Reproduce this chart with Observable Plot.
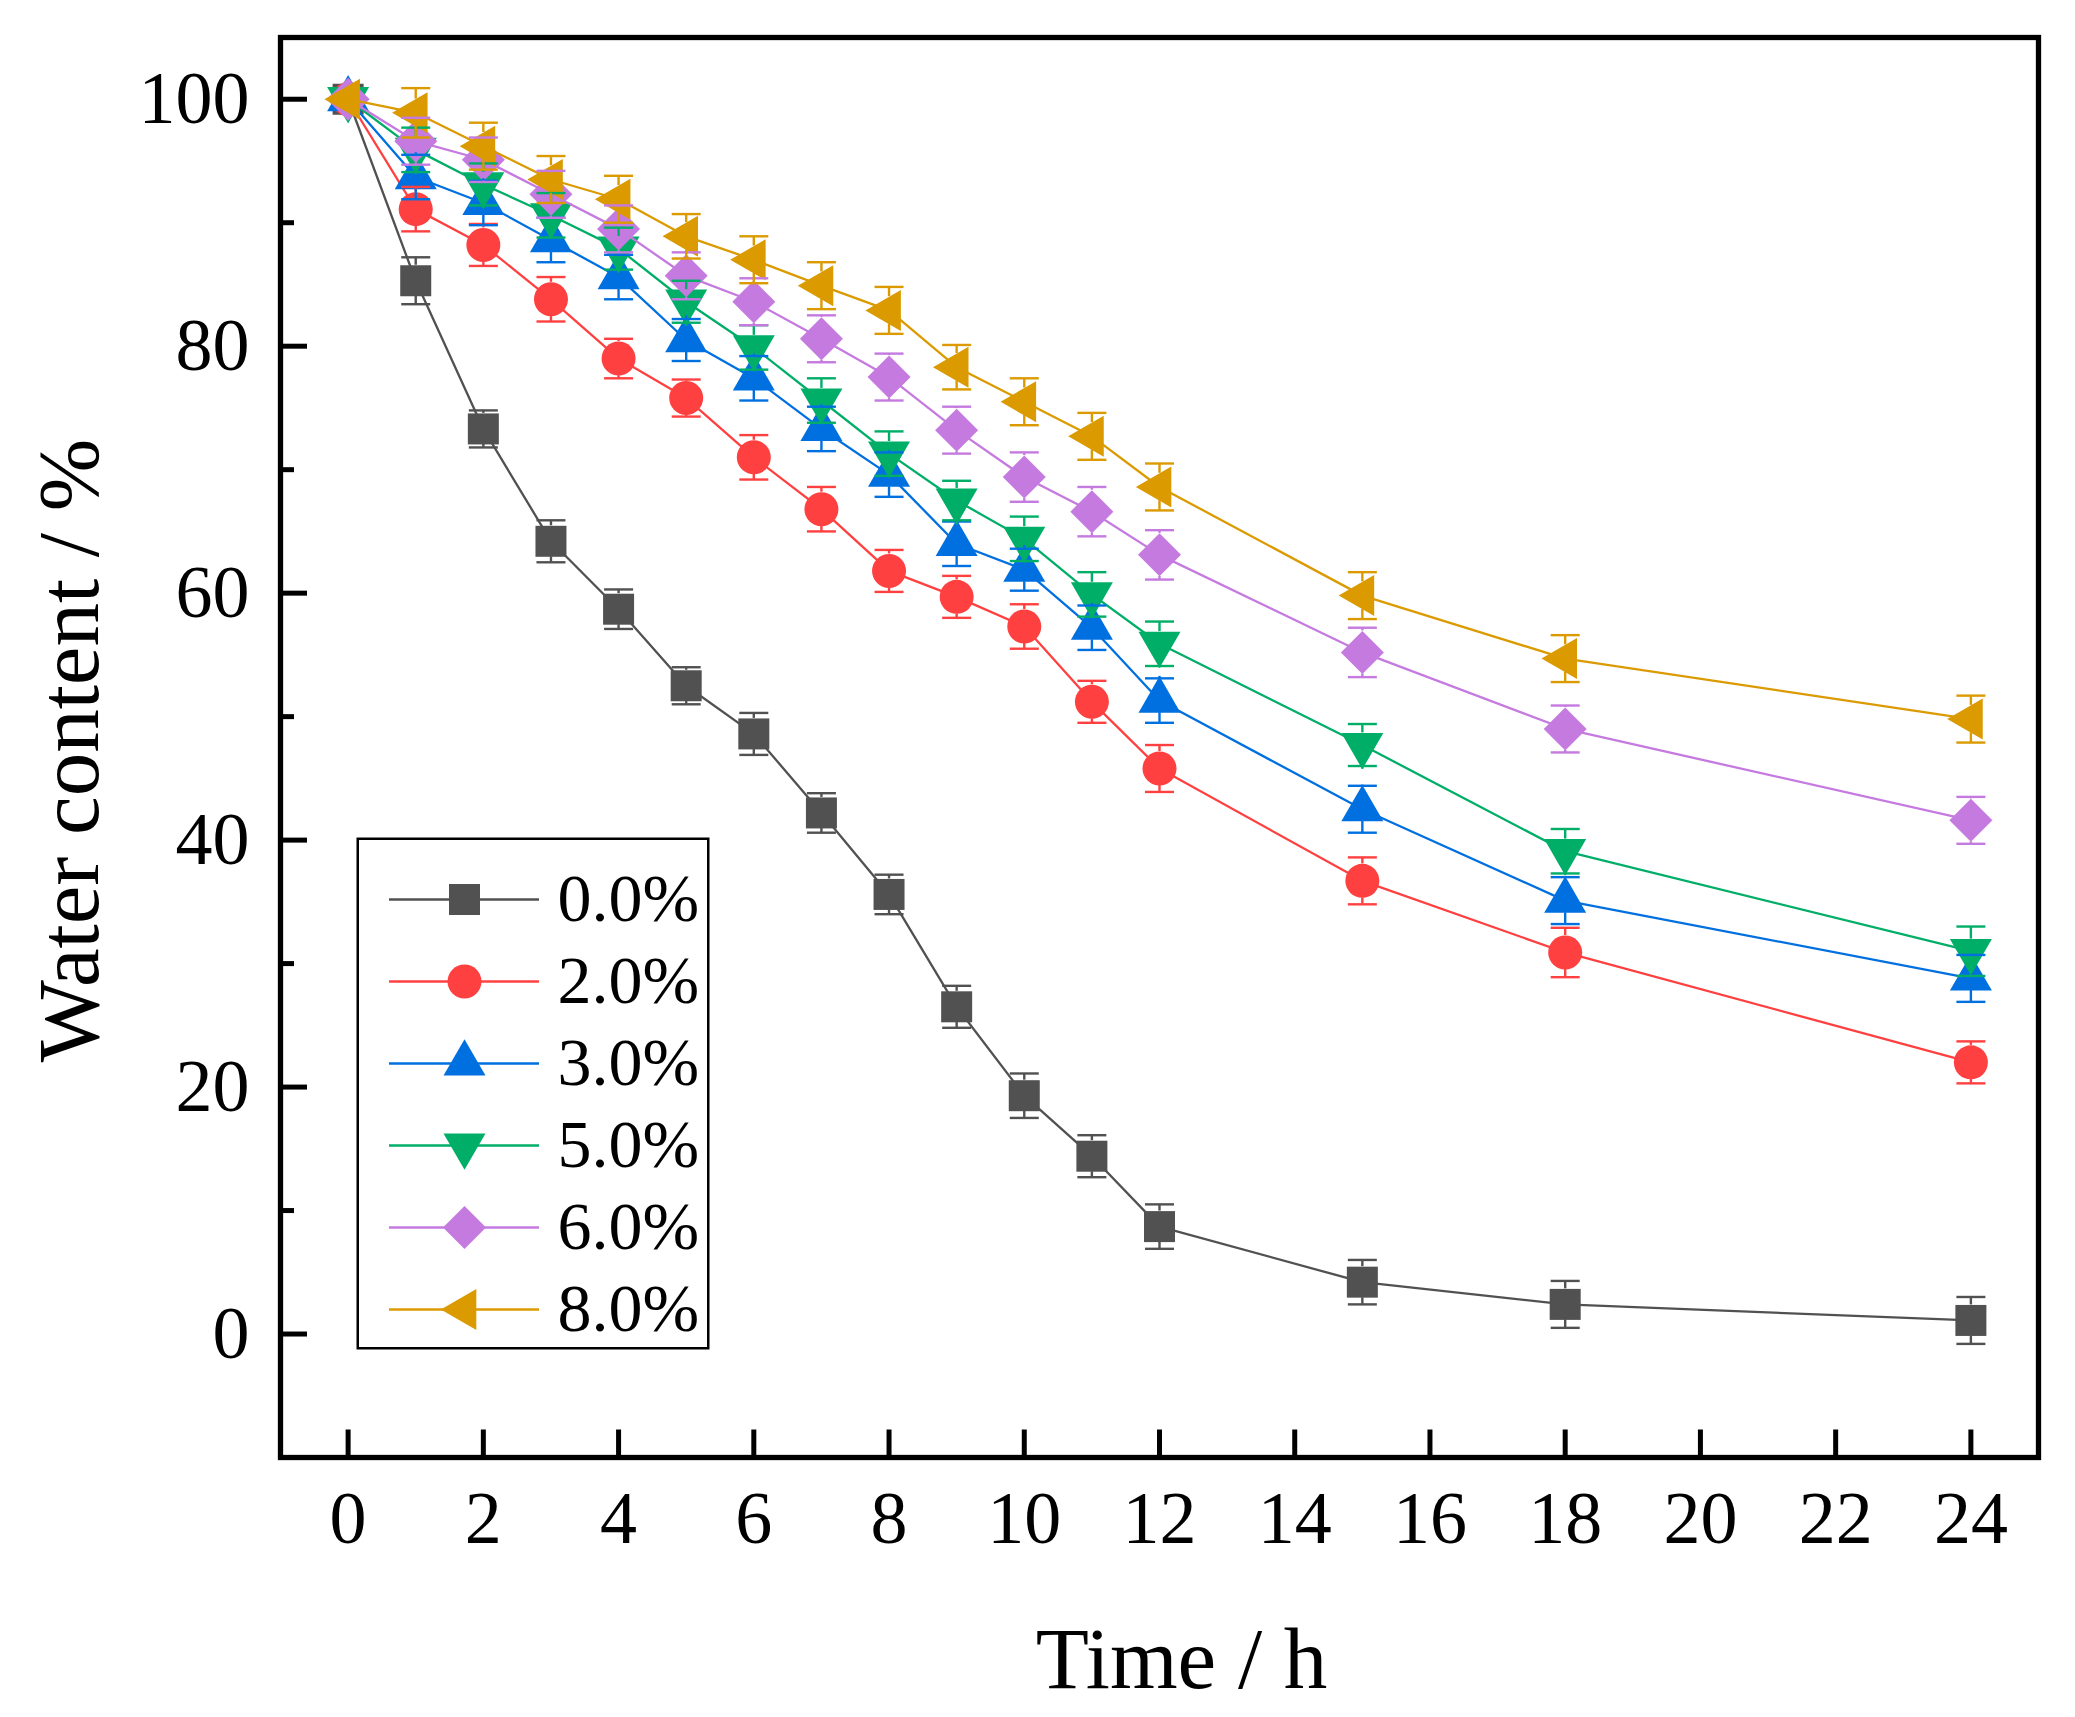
<!DOCTYPE html>
<html>
<head>
<meta charset="utf-8">
<script src="https://cdn.jsdelivr.net/npm/d3@7"></script>
<script src="https://cdn.jsdelivr.net/npm/@observablehq/plot@0.6"></script>
<style>
  html, body { margin: 0; padding: 0; background: #fff; }
  #wrap { position: relative; width: 2075px; height: 1717px; }
  #legend { position: absolute; left: 356px; top: 837px; }
  svg { overflow: visible; }
</style>
</head>
<body>
<div id="wrap"><div id="chart"></div><div id="legend"></div></div>
<script>
// ---------------- data ----------------
const times = [0, 1, 2, 3, 4, 5, 6, 7, 8, 9, 10, 11, 12, 15, 18, 24];
const seriesLabels = ["0.0%", "2.0%", "3.0%", "5.0%", "6.0%", "8.0%"];
const seriesColors = ["#515151", "#ff4040", "#0070e0", "#00ae68", "#c57ae0", "#db9a00"];

const water00 = [100, 85.3, 73.3, 64.2, 58.7, 52.5, 48.6, 42.2, 35.6, 26.5, 19.3, 14.4, 8.7, 4.2, 2.4, 1.1];
const err00   = [0, 1.9, 1.5, 1.7, 1.6, 1.5, 1.7, 1.6, 1.6, 1.7, 1.8, 1.7, 1.8, 1.8, 1.9, 1.9];
const water20 = [100, 91.1, 88.2, 83.8, 79.0, 75.8, 71.0, 66.8, 61.8, 59.7, 57.3, 51.2, 45.8, 36.7, 30.9, 22.0];
const err20   = [0, 1.8, 1.7, 1.8, 1.6, 1.5, 1.8, 1.8, 1.7, 1.7, 1.8, 1.7, 1.9, 1.9, 2.0, 1.7];
const water30 = [100, 93.7, 91.6, 88.6, 85.6, 80.5, 77.4, 73.3, 69.6, 64.0, 61.9, 57.2, 51.3, 42.5, 35.1, 28.8];
const err30   = [0, 1.8, 1.8, 1.8, 1.8, 1.7, 1.8, 1.8, 1.8, 1.8, 1.7, 1.8, 1.8, 1.9, 1.9, 1.9];
const water50 = [100, 95.9, 93.1, 90.6, 87.9, 83.6, 79.9, 75.6, 71.3, 67.5, 64.4, 59.9, 55.9, 47.7, 39.1, 31.0];
const err50   = [0, 1.8, 1.7, 1.8, 1.7, 1.7, 1.8, 1.8, 1.8, 1.6, 1.8, 1.8, 1.8, 1.7, 1.8, 2.0];
const water60 = [100, 96.6, 95.1, 92.3, 89.5, 85.7, 83.6, 80.6, 77.5, 73.2, 69.4, 66.6, 63.1, 55.2, 49.0, 41.6];
const err60   = [0, 1.9, 1.8, 1.9, 1.9, 1.9, 1.9, 1.9, 1.9, 1.9, 2.0, 2.0, 2.0, 2.0, 1.9, 1.9];
const water80 = [100, 98.9, 96.2, 93.5, 91.9, 88.9, 87.0, 84.9, 82.9, 78.3, 75.5, 72.7, 68.6, 59.8, 54.7, 49.8];
const err80   = [0, 2.0, 1.9, 1.9, 1.9, 1.8, 1.9, 1.9, 1.9, 1.8, 1.9, 1.9, 1.9, 1.9, 1.9, 1.9];

const seriesValues = [water00, water20, water30, water50, water60, water80];
const seriesErrors = [err00, err20, err30, err50, err60, err80];

const xTicks = [0, 2, 4, 6, 8, 10, 12, 14, 16, 18, 20, 22, 24];
const yMajorTicks = [0, 20, 40, 60, 80, 100];
const yMinorTicks = [10, 30, 50, 70, 90];

// ---------------- layout ----------------
const W = 2075, H = 1717;
const mL = 280, mR = 37, mT = 37, mB = 260;
const xDomain = [-1, 25], yDomain = [-10, 105];
const pxPerX = (W - mL - mR) / (xDomain[1] - xDomain[0]);
const pxPerY = (H - mT - mB) / (yDomain[1] - yDomain[0]);
const font = "'Liberation Serif', 'Times New Roman', serif";

// ---------------- symbols ----------------
const R3 = Math.sqrt(3) / 2;
const symSquare = {draw(c) { c.rect(-15.5, -15.5, 31, 31); }};
const symCircle = {draw(c) { c.moveTo(17, 0); c.arc(0, 0, 17, 0, 2 * Math.PI); }};
const symTriUp = {draw(c) { const s = 42, h = s * R3; c.moveTo(0, -2 * h / 3); c.lineTo(s / 2, h / 3); c.lineTo(-s / 2, h / 3); c.closePath(); }};
const symTriDown = {draw(c) { const s = 42, h = s * R3; c.moveTo(0, 2 * h / 3); c.lineTo(s / 2, -h / 3); c.lineTo(-s / 2, -h / 3); c.closePath(); }};
const symDiamond = {draw(c) { const a = 21.5; c.moveTo(0, -a); c.lineTo(a, 0); c.lineTo(0, a); c.lineTo(-a, 0); c.closePath(); }};
const symTriLeft = {draw(c) { const s = 41, h = s * R3; c.moveTo(-2 * h / 3, 0); c.lineTo(h / 3, -s / 2); c.lineTo(h / 3, s / 2); c.closePath(); }};
const symCap = {draw(c) { c.moveTo(-14.5, 0); c.lineTo(14.5, 0); }};

const seriesSymbols = [symSquare, symCircle, symTriUp, symTriDown, symDiamond, symTriLeft];
// half extents of each symbol above / below its centre (for error-bar gaps)
const gapAbove = [15.5, 17, 24.2, 12.1, 21.5, 13.7];
const gapBelow = [15.5, 17, 12.1, 24.2, 21.5, 13.7];

// ---------------- rows ----------------
const rowsBySeries = seriesLabels.map((s, i) =>
  times.map((t, j) => ({series: s, t, v: seriesValues[i][j], e: seriesErrors[i][j]}))
);

const LW = 2.3, EW = 2.4;
const seriesMarks = [];
rowsBySeries.forEach((rows, i) => {
  seriesMarks.push(Plot.line(rows, {x: "t", y: "v", stroke: seriesColors[i], strokeWidth: LW}));
  seriesMarks.push(Plot.dot(rows, {x: "t", y: "v", r: 10, symbol: seriesSymbols[i], fill: seriesColors[i], stroke: "none"}));
});
const errorMarks = [];
rowsBySeries.forEach((rows, i) => {
  const er = rows.filter(d => d.e > 0);
  errorMarks.push(Plot.ruleX(er, {x: "t", y1: d => d.v + d.e, y2: "v", insetBottom: gapAbove[i], stroke: seriesColors[i], strokeWidth: EW}));
  errorMarks.push(Plot.ruleX(er, {x: "t", y1: "v", y2: d => d.v - d.e, insetTop: gapBelow[i], stroke: seriesColors[i], strokeWidth: EW}));
  errorMarks.push(Plot.dot(er, {x: "t", y: d => d.v + d.e, r: 10, symbol: symCap, fill: "none", stroke: seriesColors[i], strokeWidth: EW}));
  errorMarks.push(Plot.dot(er, {x: "t", y: d => d.v - d.e, r: 10, symbol: symCap, fill: "none", stroke: seriesColors[i], strokeWidth: EW}));
});

const chart = Plot.plot({
  width: W, height: H,
  marginLeft: mL, marginRight: mR, marginTop: mT, marginBottom: mB,
  style: {fontFamily: font, background: "white", color: "black", overflow: "visible"},
  x: {domain: xDomain},
  y: {domain: yDomain},
  marks: [
    ...seriesMarks,
    ...errorMarks,
    // inward ticks
    Plot.ruleX(xTicks, {x: d => d, y1: yDomain[0], y2: yDomain[0] + 27.5 / pxPerY, stroke: "black", strokeWidth: 5}),
    Plot.ruleY(yMajorTicks, {y: d => d, x1: xDomain[0], x2: xDomain[0] + 27 / pxPerX, stroke: "black", strokeWidth: 5}),
    Plot.ruleY(yMinorTicks, {y: d => d, x1: xDomain[0], x2: xDomain[0] + 14 / pxPerX, stroke: "black", strokeWidth: 5}),
    // tick labels
    Plot.axisX(xTicks, {anchor: "bottom", tickSize: 0, tickPadding: 33, fontSize: 74, fontFamily: font, label: null}),
    Plot.axisY(yMajorTicks, {anchor: "left", tickSize: 0, tickPadding: 31, fontSize: 74, fontFamily: font, label: null}),
    // axis titles
    Plot.text(["Time / h"], {frameAnchor: "bottom", text: d => d, textAnchor: "middle", dx: 22, dy: 230, lineAnchor: "bottom", fontSize: 87, fontFamily: font, fill: "black"}),
    Plot.text(["Water content / %"], {frameAnchor: "left", text: d => d, textAnchor: "middle", rotate: -90, dx: -183, dy: 3, lineAnchor: "bottom", fontSize: 87, fontFamily: font, fill: "black"}),
    Plot.frame({stroke: "black", strokeWidth: 5.3})
  ]
});
document.getElementById("chart").appendChild(chart);

// ---------------- legend ----------------
const legendMarks = [Plot.frame({stroke: "black", strokeWidth: 2.5, inset: 1.25, fill: "white"})];
seriesLabels.forEach((s, i) => {
  legendMarks.push(Plot.ruleY([s], {y: d => d, x1: 0, x2: 1, stroke: seriesColors[i], strokeWidth: LW}));
  legendMarks.push(Plot.dot([s], {x: 0.5, y: d => d, r: 10, symbol: seriesSymbols[i], fill: seriesColors[i], stroke: "none"}));
});
legendMarks.push(Plot.text(seriesLabels, {x: 1.12, y: d => d, text: d => d, textAnchor: "start", lineAnchor: "middle", fontSize: 68, fontFamily: font, fill: "black"}));

const legend = Plot.plot({
  width: 353, height: 512, margin: 0,
  style: {fontFamily: font, background: "transparent", color: "black", overflow: "visible"},
  x: {type: "linear", domain: [0, 1], range: [33, 183], axis: null},
  y: {type: "point", domain: seriesLabels, range: [61, 473], padding: 0, axis: null},
  marks: legendMarks
});
document.getElementById("legend").appendChild(legend);
</script>
</body>
</html>
